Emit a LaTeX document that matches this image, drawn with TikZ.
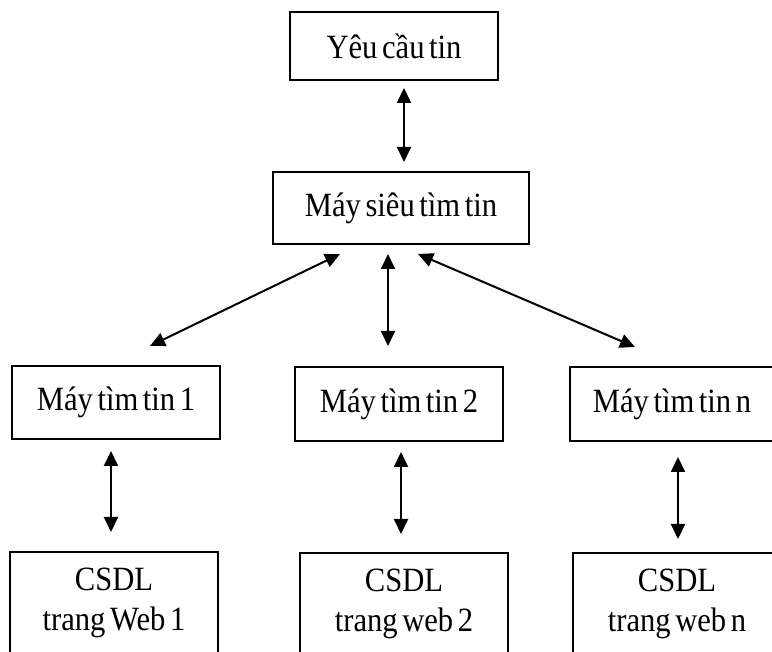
\documentclass[tikz,border=0pt]{standalone}
\usepackage{fontspec}
\setmainfont{Liberation Serif}[FakeStretch=0.9,WordSpace=0.6]
\usetikzlibrary{arrows.meta,calc}

\tikzset{
  box/.style={draw=black, line width=2pt, rectangle, inner sep=0pt,
    align=center, font=\fontsize{34}{40}\selectfont},
  link/.style={line width=2pt,
    {Triangle[length=15pt,width=14pt]}-{Triangle[length=15pt,width=14pt]}}
}

\begin{document}
\begin{tikzpicture}[x=1pt,y=-1pt]
  \useasboundingbox (0,0) rectangle (772,652);
  \clip (0,0) rectangle (772,652);

  % top level
  \node[box, minimum width=208pt, minimum height=68pt] (req) at (394,46) {Yêu cầu tin};
  \node[box, minimum width=256pt, minimum height=72pt] (meta) at (401,208) {Máy siêu tìm tin};

  % search engines
  \node[box, minimum width=208pt, minimum height=73pt] (m1) at (116,402.5) {Máy tìm tin 1};
  \node[box, minimum width=208pt, minimum height=74pt] (m2) at (399,404) {Máy tìm tin 2};
  \node[box, minimum width=204pt, minimum height=74pt] (mn) at (672,404) {Máy tìm tin n};

  % databases
  \node[box, minimum width=208pt, minimum height=102pt] (b1) at (114,603) {CSDL\\trang Web 1};
  \node[box, minimum width=208pt, minimum height=102pt] (b2) at (404,604) {CSDL\\trang web 2};
  \node[box, minimum width=208pt, minimum height=102pt] (bn) at (677,604) {CSDL\\trang web n};

  % connectors
  \draw[link] ($(req.south)+(10,7)$) -- ($(meta.north)+(3,-9)$);
  \draw[link] ($(meta.south)+(-61,9)$) -- ($(m1.north)+(34,-19)$);
  \draw[link] ($(meta.south)+(-13,9)$) -- ($(m2.north)+(-11,-20)$);
  \draw[link] ($(meta.south)+(17,9)$) -- ($(mn.north)+(-37,-19)$);

  \draw[link] ($(m1.south)+(-5,11)$) -- ($(b1.north)+(-3,-19)$);
  \draw[link] ($(m2.south)+(2,10)$) -- ($(b2.north)+(-3,-18)$);
  \draw[link] ($(mn.south)+(6,15)$) -- ($(bn.north)+(1,-13)$);
\end{tikzpicture}
\end{document}
